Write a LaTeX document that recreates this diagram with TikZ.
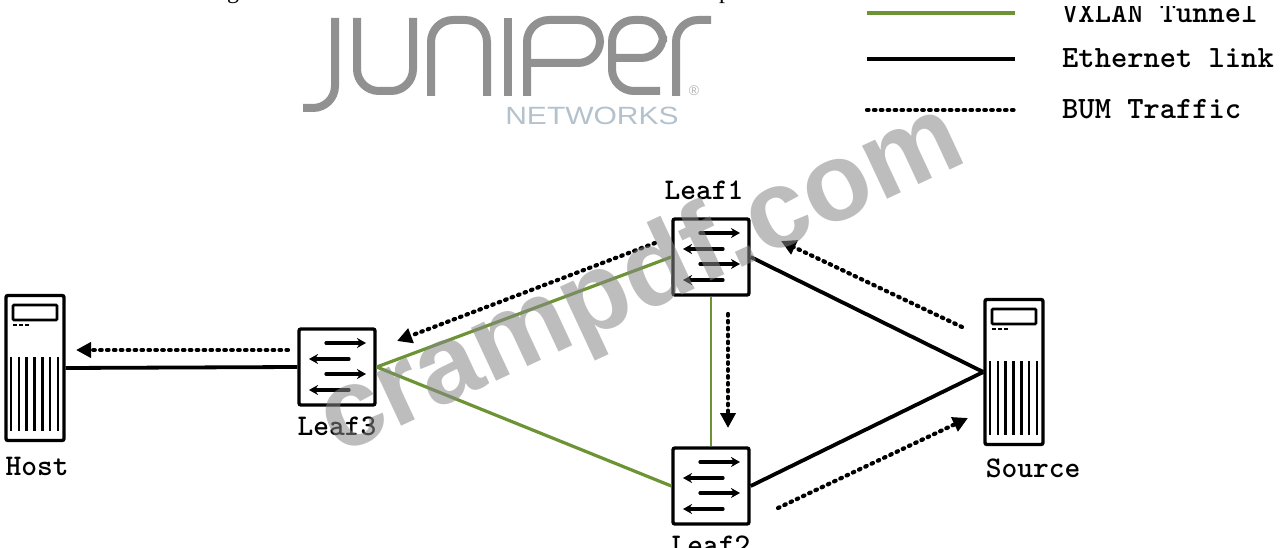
\documentclass[tikz,border=0pt]{standalone}
\usepackage{fontspec}
\setmainfont{Liberation Serif}
\setsansfont{Liberation Sans}
\usetikzlibrary{arrows.meta,positioning}
\definecolor{tunnelgreen}{RGB}{108,148,52}
\definecolor{markgray}{RGB}{135,135,135}
\definecolor{logogray}{RGB}{145,145,145}
\definecolor{logoblue}{RGB}{180,194,206}
\tikzset{
  tunnel/.style={draw=tunnelgreen,line width=3.2pt},
  ethernet/.style={draw=black,line width=3.8pt},
  bum/.style={draw=black,line width=4.2pt,line cap=round,dash pattern=on 1.6pt off 5.3pt},
  bumtip/.style={-{Triangle[length=15pt,width=15pt]}},
  label/.style={font=\ttfamily\bfseries\fontsize{30}{30}\selectfont,inner sep=0pt,anchor=base},
  leglabel/.style={font=\ttfamily\bfseries\fontsize{31}{31}\selectfont,inner sep=0pt,anchor=base west},
  leafbox/.style={draw=black,line width=3.4pt,rounded corners=2pt,minimum size=76pt,inner sep=0pt},
  flow/.style={draw=black,line width=3.2pt,line cap=round,-{Stealth[length=9pt,width=10pt]}},
  towerbox/.style={draw=black,line width=3.4pt,rounded corners=2pt,minimum width=58pt,minimum height=145pt,inner sep=0pt},
  logoline/.style={draw=logogray,line width=8pt,rounded corners=22pt}
}
\newcommand{\flows}[1]{
  \draw[flow] ([shift={(-11,-24)}]#1.center) -- ([shift={(29,-24)}]#1.center);
  \draw[flow] ([shift={(12,-8)}]#1.center) -- ([shift={(-28,-8)}]#1.center);
  \draw[flow] ([shift={(-11,7)}]#1.center) -- ([shift={(29,7)}]#1.center);
  \draw[flow] ([shift={(12,23)}]#1.center) -- ([shift={(-28,23)}]#1.center);
}
\newcommand{\tower}[1]{
  \draw[line width=2.6pt,rounded corners=1pt] ([shift={(-22,-63)}]#1.center) rectangle ([shift={(22,-48)}]#1.center);
  \draw[line width=2.4pt,dash pattern=on 4pt off 2pt] ([shift={(-22,-43)}]#1.center) -- ([shift={(-6,-43)}]#1.center);
  \foreach \dx in {-24,-16.2,...,25}
    \draw[line width=2.6pt] ([shift={(\dx,-11)}]#1.center) -- ([shift={(\dx,63)}]#1.center);
}
\begin{document}
\begin{tikzpicture}[x=1pt,y=-1pt]
  \useasboundingbox (0,0) rectangle (1283,548);

  % cut off line above the logo
  \node[font=\fontsize{24}{24}\selectfont,inner sep=0pt,anchor=base] (topg) at (233,-1) {g};
  \node[font=\fontsize{24}{24}\selectfont,inner sep=0pt,anchor=base] (topp) at (725,-1) {p};

  % logo
  \draw[logoline] (335,18) -- (335,108) -- (303,108);
  \draw[logoline] (357,18) -- (357,91) -- (413,91) -- (413,18);
  \draw[logoline] (431,96) -- (431,20) -- (487,20) -- (487,96);
  \draw[logoline] (508,18) -- (508,96);
  \draw[logoline] (527,96) -- (527,20) -- (600,20) -- (600,63) -- (527,63);
  \draw[logoline] (660,91) -- (612,91) -- (612,20) -- (663,20) -- (663,58) -- (612,58);
  \draw[logoline] (676,96) -- (676,20) -- (711,20);
  \node[font=\sffamily\fontsize{25}{25}\selectfont,text=logoblue,inner sep=0pt,xscale=1.2] (brand) at (592,116) {NETWORKS};
  \node[font=\sffamily\fontsize{14}{14}\selectfont,text=logogray!70,inner sep=0pt] (regmark) at (694,91) {\textregistered};

  % devices
  \node[towerbox] (host) at (35,368) {};
  \node[leafbox] (leaf3) at (337,367) {};
  \node[leafbox] (leaf1) at (711,257) {};
  \node[leafbox] (leaf2) at (711,486) {};
  \node[towerbox] (source) at (1014,372) {};
  \flows{leaf3}
  \flows{leaf1}
  \flows{leaf2}
  \tower{host}
  \tower{source}

  % links
  \draw[tunnel] (leaf3.east) -- (leaf1.west);
  \draw[tunnel] (leaf3.east) -- (leaf2.west);
  \draw[tunnel,line width=2.6pt] (leaf1.south) -- (leaf2.north);
  \draw[ethernet] (host.east) -- (leaf3.west);
  \draw[ethernet] (leaf1.east) -- (source.west);
  \draw[ethernet] (leaf2.east) -- (source.west);

  % traffic
  \coordinate (b1a) at (288,350);
  \coordinate (b1b) at (76,350);
  \coordinate (b2a) at (655,243);
  \coordinate (b2b) at (397,341);
  \coordinate (b3a) at (962,327);
  \coordinate (b3b) at (781,241);
  \coordinate (b4a) at (728,314);
  \coordinate (b4b) at (728,428);
  \coordinate (b5a) at (778,508);
  \coordinate (b5b) at (968,418);
  \foreach \from/\to in {b1a/b1b,b2a/b2b,b3a/b3b,b4a/b4b,b5a/b5b}
    \draw[bum,bumtip] (\from) -- (\to);

  % names
  \node[label] (hostname) at (37,475) {Host};
  \node[label] (leaf3name) at (337,435) {Leaf3};
  \node[label] (leaf1name) at (704,200) {Leaf1};
  \node[label] (leaf2name) at (711,554) {Leaf2};
  \node[label] (sourcename) at (1033,477) {Source};

  % legend
  \coordinate (lg1a) at (867,13);
  \coordinate (lg1b) at (1015,13);
  \coordinate (lg2a) at (867,59);
  \coordinate (lg2b) at (1015,59);
  \coordinate (lg3a) at (867,110);
  \coordinate (lg3b) at (1015,110);
  \draw[tunnel] (lg1a) -- (lg1b);
  \draw[ethernet] (lg2a) -- (lg2b);
  \draw[bum] (lg3a) -- (lg3b);
  \begin{scope}
    \clip (1050,7) rectangle (1283,40);
    \node[leglabel] (lgtext1) at (1062,23) {VXLAN Tunnel};
  \end{scope}
  \node[leglabel] (lgtext2) at (1062,68) {Ethernet link};
  \node[leglabel] (lgtext3) at (1062,119) {BUM Traffic};

  % watermark
  \node[font=\sffamily\bfseries\fontsize{111}{111}\selectfont,text=markgray,opacity=0.55,inner sep=0pt,rotate=25] (mark) at (642,282) {crampdf.com};
\end{tikzpicture}
\end{document}
